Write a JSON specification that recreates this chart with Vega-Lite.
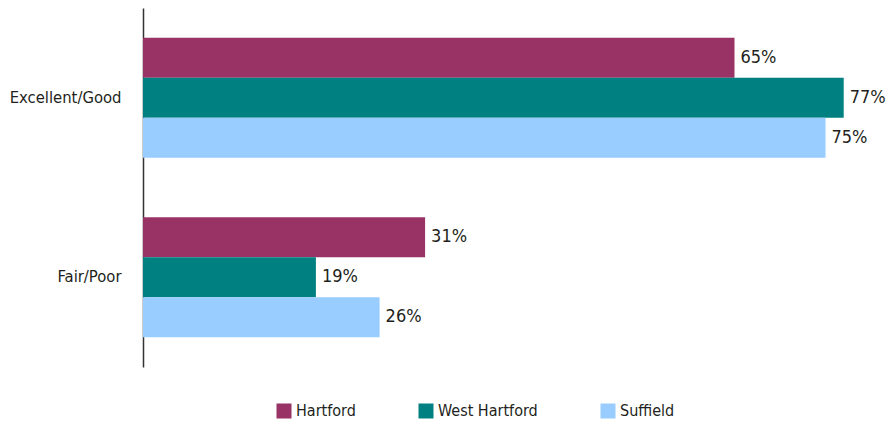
{
  "$schema": "https://vega.github.io/schema/vega-lite/v6.json",
  "width": 728,
  "height": 359,
  "autosize": "none",
  "padding": {"left": 143, "top": 8, "right": 17, "bottom": 62},
  "data": {
    "values": [
      {"rating": "Excellent/Good", "town": "Hartford", "pct": 0.65},
      {"rating": "Excellent/Good", "town": "West Hartford", "pct": 0.77},
      {"rating": "Excellent/Good", "town": "Suffield", "pct": 0.75},
      {"rating": "Fair/Poor", "town": "Hartford", "pct": 0.31},
      {"rating": "Fair/Poor", "town": "West Hartford", "pct": 0.19},
      {"rating": "Fair/Poor", "town": "Suffield", "pct": 0.26}
    ]
  },
  "encoding": {
    "y": {
      "field": "rating",
      "type": "nominal",
      "sort": ["Excellent/Good", "Fair/Poor"],
      "scale": {"paddingInner": 0.331, "paddingOuter": 0.166},
      "axis": {
        "title": null,
        "ticks": false,
        "domainColor": "#333333",
        "domainWidth": 1.5,
        "labelFont": "DejaVu Sans Condensed, Roboto, sans-serif",
        "labelFontSize": 16.5,
        "labelColor": "#231f20",
        "labelPadding": 22
      }
    },
    "yOffset": {
      "field": "town",
      "type": "nominal",
      "sort": ["Hartford", "West Hartford", "Suffield"]
    },
    "x": {
      "field": "pct",
      "type": "quantitative",
      "scale": {"domain": [0, 0.8]},
      "axis": null
    }
  },
  "layer": [
    {
      "mark": {"type": "bar"},
      "encoding": {
        "color": {
          "field": "town",
          "type": "nominal",
          "sort": ["Hartford", "West Hartford", "Suffield"],
          "scale": {
            "domain": ["Hartford", "West Hartford", "Suffield"],
            "range": ["#993366", "#008080", "#99ccff"]
          },
          "legend": {
            "title": null,
            "orient": "none",
            "direction": "horizontal",
            "legendX": 133,
            "legendY": 395,
            "symbolType": "square",
            "symbolSize": 225,
            "symbolStrokeWidth": 0,
            "columnPadding": 62,
            "labelOffset": 4,
            "labelFont": "DejaVu Sans Condensed, Roboto, sans-serif",
            "labelFontSize": 16,
            "labelColor": "#231f20"
          }
        }
      }
    },
    {
      "mark": {
        "type": "text",
        "align": "left",
        "baseline": "middle",
        "dx": 6,
        "font": "DejaVu Sans Condensed, Roboto, sans-serif",
        "fontSize": 18,
        "color": "#231f20"
      },
      "encoding": {
        "text": {"field": "pct", "type": "quantitative", "format": ".0%"}
      }
    }
  ],
  "config": {"view": {"stroke": null}}
}
